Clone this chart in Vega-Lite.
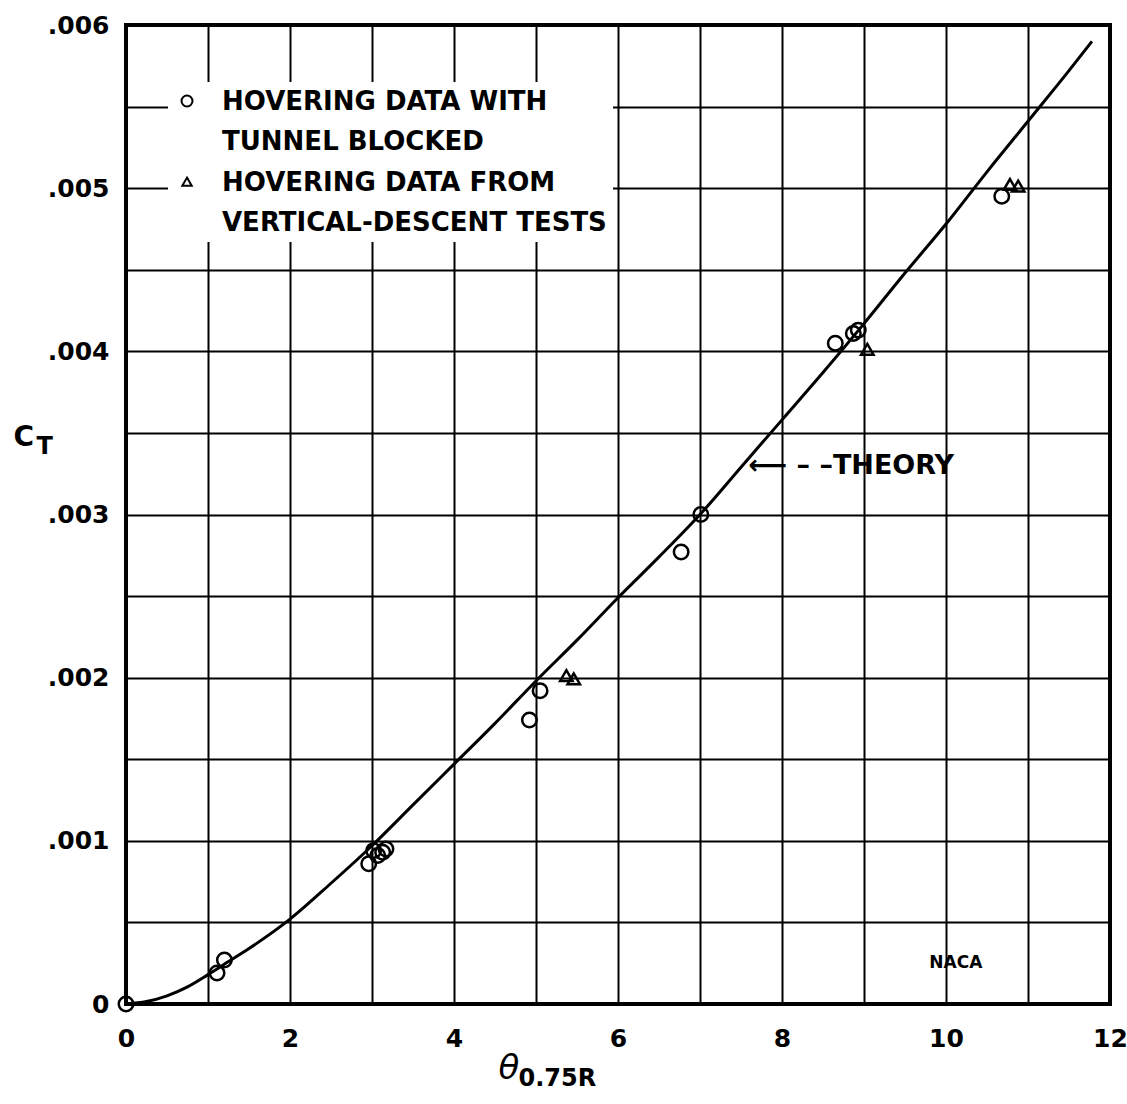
{
  "$schema": "https://vega.github.io/schema/vega-lite/v6.json",
  "width": 984,
  "height": 979,
  "autosize": {"type": "none"},
  "padding": {"left": 126, "top": 25, "right": 17, "bottom": 100},
  "background": "white",
  "config": {
    "view": {"stroke": "black", "strokeWidth": 4},
    "style": {"guide-label": {"lineHeight": 40, "dy": -12}},
    "axis": {
      "labelFont": "DejaVu Sans",
      "labelFontWeight": "bold",
      "labelFontSize": 25,
      "labelColor": "black",
      "titleColor": "black",
      "gridColor": "black",
      "gridWidth": 2,
      "gridOpacity": 1,
      "domain": false,
      "ticks": false,
      "labelFlush": false
    }
  },
  "datasets": {
    "theory": [
      {"theta": 0, "ct": 0},
      {"theta": 0.25, "ct": 0.000015},
      {"theta": 0.5, "ct": 0.00005},
      {"theta": 0.75, "ct": 0.000105},
      {"theta": 1, "ct": 0.00018},
      {"theta": 1.25, "ct": 0.00026},
      {"theta": 1.5, "ct": 0.00034},
      {"theta": 2, "ct": 0.00052},
      {"theta": 2.5, "ct": 0.00074},
      {"theta": 3, "ct": 0.00097},
      {"theta": 3.5, "ct": 0.00122},
      {"theta": 4, "ct": 0.00147},
      {"theta": 4.5, "ct": 0.00172},
      {"theta": 5, "ct": 0.00198},
      {"theta": 5.5, "ct": 0.00223},
      {"theta": 6, "ct": 0.00249},
      {"theta": 6.5, "ct": 0.00274},
      {"theta": 7, "ct": 0.003},
      {"theta": 7.5, "ct": 0.00329},
      {"theta": 8, "ct": 0.00358},
      {"theta": 8.5, "ct": 0.00387},
      {"theta": 9, "ct": 0.00417},
      {"theta": 9.5, "ct": 0.00448},
      {"theta": 10, "ct": 0.00478},
      {"theta": 10.5, "ct": 0.0051},
      {"theta": 11, "ct": 0.00541},
      {"theta": 11.5, "ct": 0.00572},
      {"theta": 11.78, "ct": 0.0059}
    ],
    "obs": [
      {"theta": 0, "ct": 0, "series": "tunnel"},
      {"theta": 1.11, "ct": 0.00019, "series": "tunnel"},
      {"theta": 1.2, "ct": 0.00027, "series": "tunnel"},
      {"theta": 2.96, "ct": 0.00086, "series": "tunnel"},
      {"theta": 3.02, "ct": 0.00094, "series": "tunnel"},
      {"theta": 3.07, "ct": 0.00091, "series": "tunnel"},
      {"theta": 3.13, "ct": 0.00093, "series": "tunnel"},
      {"theta": 3.17, "ct": 0.00095, "series": "tunnel"},
      {"theta": 4.92, "ct": 0.00174, "series": "tunnel"},
      {"theta": 5.05, "ct": 0.00192, "series": "tunnel"},
      {"theta": 6.77, "ct": 0.00277, "series": "tunnel"},
      {"theta": 7.01, "ct": 0.003, "series": "tunnel"},
      {"theta": 8.65, "ct": 0.00405, "series": "tunnel"},
      {"theta": 8.87, "ct": 0.00411, "series": "tunnel"},
      {"theta": 8.93, "ct": 0.00413, "series": "tunnel"},
      {"theta": 10.68, "ct": 0.00495, "series": "tunnel"},
      {"theta": 5.37, "ct": 0.00201, "series": "descent"},
      {"theta": 5.46, "ct": 0.00199, "series": "descent"},
      {"theta": 9.04, "ct": 0.00401, "series": "descent"},
      {"theta": 10.78, "ct": 0.00502, "series": "descent"},
      {"theta": 10.88, "ct": 0.00501, "series": "descent"}
    ],
    "notes": [
      {"theta": 7.59, "ct": 0.0033, "note": "⟵ – –THEORY"}
    ],
    "logo": [
      {"theta": 10.12, "ct": 0.00025, "note": "NACA"}
    ]
  },
  "layer": [
    {
      "data": {"name": "theory"},
      "mark": {"type": "line", "color": "black", "strokeWidth": 3, "interpolate": "monotone"},
      "encoding": {
        "x": {
          "field": "theta", "type": "quantitative",
          "scale": {"domain": [0, 12], "nice": false, "zero": false},
          "axis": {
            "orient": "bottom",
            "values": [0, 1, 2, 3, 4, 5, 6, 7, 8, 9, 10, 11, 12],
            "labelExpr": "datum.value % 2 == 0 ? datum.label : ''",
            "labelPadding": 34,
            "grid": true,
            "title": "θ",
            "titleFont": "DejaVu Sans",
            "titleFontStyle": "italic",
            "titleFontWeight": "normal",
            "titleFontSize": 34,
            "titleX": 372,
            "titleY": 74,
            "titleAlign": "left",
            "titleBaseline": "alphabetic"
          }
        },
        "y": {
          "field": "ct", "type": "quantitative",
          "scale": {"domain": [0, 0.006], "nice": false, "zero": true},
          "axis": {
            "orient": "left",
            "values": [0, 0.0005, 0.001, 0.0015, 0.002, 0.0025, 0.003, 0.0035, 0.004, 0.0045, 0.005, 0.0055, 0.006],
            "labelExpr": "datum.value == 0 ? '0' : (round(datum.value * 2000) % 2 == 0 ? replace(format(datum.value, '.3f'), '0.', '.') : '')",
            "labelPadding": 17,
            "labelOffset": 12,
            "grid": true,
            "title": "C",
            "titleFont": "DejaVu Sans",
            "titleFontWeight": "bold",
            "titleFontSize": 28,
            "titleAngle": 0,
            "titleX": -113,
            "titleY": 420,
            "titleAlign": "left",
            "titleBaseline": "alphabetic"
          }
        }
      }
    },
    {
      "data": {"name": "obs"},
      "mark": {"type": "point", "filled": false, "stroke": "black", "strokeWidth": 2.5, "opacity": 1, "size": 210},
      "encoding": {
        "x": {
          "field": "theta", "type": "quantitative",
          "axis": {
            "orient": "bottom", "grid": false, "labels": false, "domain": false, "ticks": false,
            "title": "0.75R",
            "titleFont": "DejaVu Sans",
            "titleFontWeight": "bold",
            "titleFontSize": 24,
            "titleX": 392,
            "titleY": 81,
            "titleAlign": "left",
            "titleBaseline": "alphabetic"
          }
        },
        "y": {
          "field": "ct", "type": "quantitative",
          "axis": {
            "orient": "left", "grid": false, "labels": false, "domain": false, "ticks": false,
            "title": "T",
            "titleFont": "DejaVu Sans",
            "titleFontWeight": "bold",
            "titleFontSize": 24,
            "titleAngle": 0,
            "titleX": -90,
            "titleY": 428,
            "titleAlign": "left",
            "titleBaseline": "alphabetic"
          }
        },
        "shape": {
          "field": "series", "type": "nominal",
          "scale": {"domain": ["tunnel", "descent"], "range": ["circle", "M0,-0.8L0.86,0.68L-0.86,0.68Z"]},
          "legend": {
            "orient": "none",
            "legendX": 42,
            "legendY": 57,
            "title": null,
            "padding": 6,
            "fillColor": "white",
            "labelExpr": "datum.value == 'tunnel' ? ['HOVERING DATA WITH', 'TUNNEL BLOCKED'] : ['HOVERING DATA FROM', 'VERTICAL-DESCENT TESTS']",
            "labelFont": "DejaVu Sans",
            "labelFontWeight": "bold",
            "labelFontSize": 26,
            "labelColor": "black",
            "labelLimit": 0,
            "labelOffset": 22,
            "labelBaseline": "top",
            "symbolSize": 120,
            "symbolStrokeWidth": 2,
            "symbolStrokeColor": "black",
            "symbolFillColor": "white",
            "rowPadding": 14
          }
        }
      }
    },
    {
      "data": {"name": "notes"},
      "mark": {"type": "text", "align": "left", "baseline": "middle", "font": "DejaVu Sans", "fontWeight": "bold", "fontSize": 27, "color": "black"},
      "encoding": {
        "x": {"field": "theta", "type": "quantitative", "axis": null},
        "y": {"field": "ct", "type": "quantitative", "axis": null},
        "text": {"field": "note"}
      }
    },
    {
      "data": {"name": "logo"},
      "mark": {"type": "text", "align": "center", "baseline": "middle", "font": "DejaVu Sans", "fontWeight": "bold", "fontSize": 17, "color": "black"},
      "encoding": {
        "x": {"field": "theta", "type": "quantitative", "axis": null},
        "y": {"field": "ct", "type": "quantitative", "axis": null},
        "text": {"field": "note"}
      }
    }
  ],
  "resolve": {"axis": {"x": "independent", "y": "independent"}}
}
